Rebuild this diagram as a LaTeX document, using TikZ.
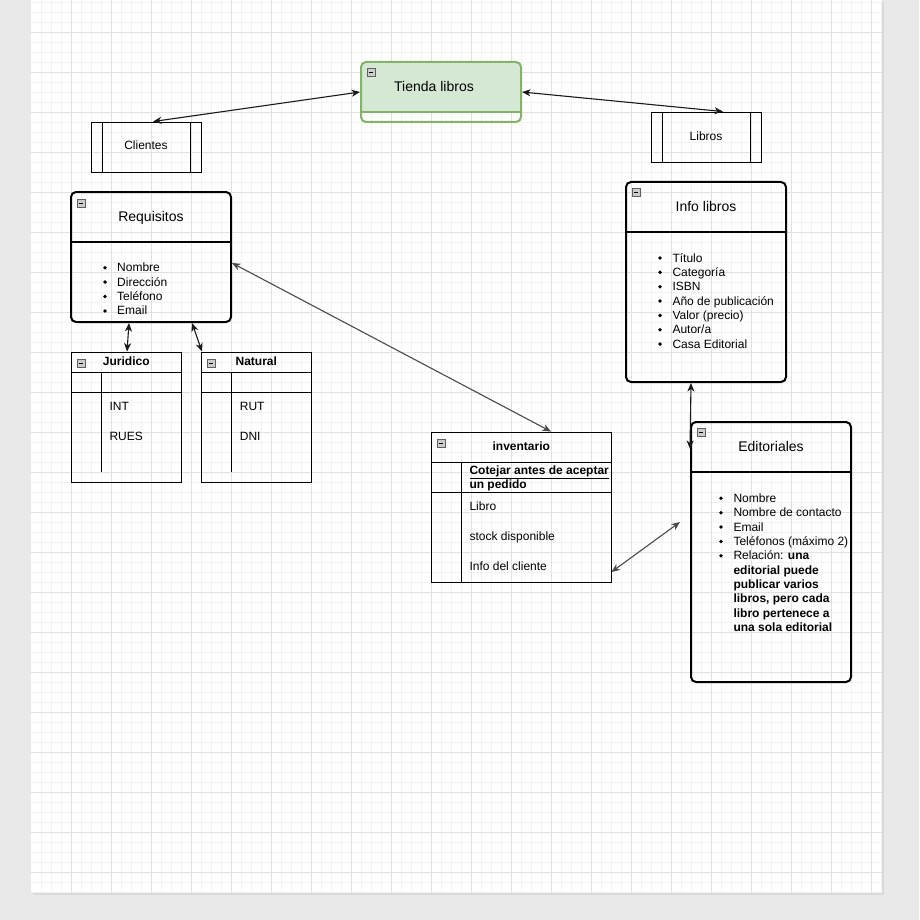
\documentclass[tikz,border=0pt]{standalone}
\usepackage{fontspec}
\setmainfont{Liberation Sans}
\usetikzlibrary{arrows.meta,calc}
\definecolor{bggray}{HTML}{E9E9E9}
\definecolor{shadowgray}{HTML}{DADADA}
\definecolor{gminor}{HTML}{F3F3F3}
\definecolor{gmajor}{HTML}{E1E1E1}
\definecolor{tfill}{HTML}{D5E8D4}
\definecolor{tstroke}{HTML}{82B366}
\definecolor{connblack}{HTML}{1A1A1A}
\definecolor{conngray}{HTML}{4A4A4A}
\begin{document}
\begin{tikzpicture}[x=1pt,y=-1pt,
  txt/.style={inner sep=0, font=\fontsize{12}{14.4}\selectfont, anchor=base west},
  btxt/.style={inner sep=0, font=\fontsize{12}{14.4}\selectfont\bfseries, anchor=base west},
  ctitle/.style={inner sep=0, font=\fontsize{14}{16}\selectfont, anchor=base},
  stitle/.style={inner sep=0, font=\fontsize{12}{14}\selectfont, anchor=base},
  btitle/.style={inner sep=0, font=\fontsize{12}{14}\selectfont\bfseries, anchor=base},
  lane/.style={draw=black, line width=2pt, rounded corners=5pt, inner sep=0},
  tbl/.style={draw=black, line width=0.9pt, inner sep=0},
  divider/.style={draw=black, line width=0.9pt},
  lanediv/.style={draw=black, line width=2pt},
  minusicon/.style={draw=gray!75!black, fill=gray!40, line width=0.5pt, minimum size=8pt, inner sep=0,
    path picture={\draw[black, line width=0.9pt] ([xshift=1.8pt]path picture bounding box.west) -- ([xshift=-1.8pt]path picture bounding box.east);}},
  conn/.style={draw=connblack, line width=1.1pt, {Stealth[length=8.5pt,width=7pt,inset=2.5pt]}-{Stealth[length=8.5pt,width=7pt,inset=2.5pt]}},
  conng/.style={draw=conngray, line width=1.1pt, {Stealth[length=8.5pt,width=7pt,inset=2.5pt]}-{Stealth[length=8.5pt,width=7pt,inset=2.5pt]}},
]
\useasboundingbox (0,0) rectangle (919,920);
% background and page
\fill[bggray] (0,0) rectangle (919,920);
\fill[shadowgray] (33,2) rectangle (884,895);
\fill[white] (31,0) rectangle (882,893);
\foreach \x in {41,51,...,881} \draw[gminor, line width=0.8pt] (\x,0) -- (\x,893);
\foreach \y in {2,12,...,892} \draw[gminor, line width=0.8pt] (31,\y) -- (882,\y);
\foreach \x in {71,111,...,871} \draw[gmajor, line width=0.8pt] (\x,0) -- (\x,893);
\foreach \y in {32,72,...,872} \draw[gmajor, line width=0.8pt] (31,\y) -- (882,\y);

% Tienda libros
\begin{scope}
  \clip (355,55) rectangle (527,112);
  \fill[tfill, rounded corners=5pt] (361,62) rectangle (521,122);
\end{scope}
\node[lane, draw=tstroke, minimum width=160pt, minimum height=60pt] (tienda) at (441,92) {};
\draw[lanediv, draw=tstroke] (361,112) -- (521,112);
\node[minusicon] (mt) at (371,72) {};
\node[ctitle] (tiendat) at (434,92) {Tienda libros};

% Clientes
\node[tbl, minimum width=110pt, minimum height=50pt] (cli) at (146,147) {};
\draw[divider] (102,122) -- (102,172);
\draw[divider] (190,122) -- (190,172);
\node[stitle] (clit) at (146,150) {Clientes};

% Libros
\node[tbl, minimum width=110pt, minimum height=50pt] (lib) at (706,137) {};
\draw[divider] (662,112) -- (662,162);
\draw[divider] (750,112) -- (750,162);
\node[stitle] (libt) at (706,140.5) {Libros};

% Requisitos
\node[lane, minimum width=160pt, minimum height=130pt] (req) at (151,257) {};
\draw[lanediv] (71,242) -- (231,242);
\node[minusicon] (mr) at (81,203) {};
\node[ctitle] (reqt) at (151,221.5) {Requisitos};
\foreach \t [count=\i from 0] in {Nombre,Dirección,Teléfono,Email} {
  \pgfmathsetmacro\yy{271.7+14.4*\i}
  \node[txt] (ri\i) at (117,\yy) {\t};
  \fill (105,\yy-4) circle (1.9);
}

% Info libros
\node[lane, minimum width=160pt, minimum height=200pt] (il) at (706,282) {};
\draw[lanediv] (626,232) -- (786,232);
\node[minusicon] (mil) at (636,192) {};
\node[ctitle] (ilt) at (706,211.7) {Info libros};
\foreach \t [count=\i from 0] in {Título,Categoría,ISBN,Año de publicación,Valor (precio),Autor/a,Casa Editorial} {
  \pgfmathsetmacro\yy{262+14.35*\i}
  \node[txt] (ili\i) at (672.3,\yy) {\t};
  \fill (660,\yy-4) circle (1.9);
}

% Juridico
\node[tbl, minimum width=110pt, minimum height=130pt] (jur) at (126,417) {};
\draw[divider] (71,372) -- (181,372);
\draw[divider] (71,392) -- (181,392);
\draw[divider] (101,372) -- (101,472);
\node[minusicon] (mj) at (81,363) {};
\node[btitle] (jurt) at (126.3,365) {Juridico};
\node[txt] (jint) at (109.3,410) {INT};
\node[txt] (jrues) at (109.3,440) {RUES};

% Natural
\node[tbl, minimum width=110pt, minimum height=130pt] (nat) at (256,417) {};
\draw[divider] (201,372) -- (311,372);
\draw[divider] (201,392) -- (311,392);
\draw[divider] (231,372) -- (231,472);
\node[minusicon] (mn) at (211,363) {};
\node[btitle] (natt) at (256.3,365) {Natural};
\node[txt] (nrut) at (239.7,410) {RUT};
\node[txt] (ndni) at (239.7,440) {DNI};

% inventario
\node[tbl, minimum width=180pt, minimum height=150pt] (inv) at (521,507) {};
\draw[divider] (431,462) -- (611,462);
\draw[divider] (431,492) -- (611,492);
\draw[divider] (461,462) -- (461,582);
\node[minusicon] (mi) at (441,443) {};
\node[btitle] (invt) at (521.3,450) {inventario};
\node[btxt] (cot1) at (469.3,474.5) {\underline{Cotejar antes de aceptar}};
\node[btxt] (cot2) at (469.3,488.5) {un pedido};
\node[txt] (ilibro) at (469.3,510) {Libro};
\node[txt] (istock) at (469.3,540) {stock disponible};
\node[txt] (icli) at (469.3,570) {Info del cliente};

% Editoriales
\node[lane, minimum width=160pt, minimum height=260pt] (ed) at (771,552) {};
\draw[lanediv] (691,472) -- (851,472);
\node[minusicon] (me) at (701,432) {};
\node[ctitle] (edt) at (771,451.7) {Editoriales};
\foreach \t [count=\i from 0] in {Nombre,Nombre de contacto,Email,Teléfonos (máximo 2),Relación: \textbf{una}} {
  \pgfmathsetmacro\yy{502.3+14.38*\i}
  \node[txt] (edi\i) at (733.3,\yy) {\t};
  \fill (721,\yy-4) circle (1.9);
}
\foreach \t [count=\i from 1] in {editorial puede,publicar varios,{libros, pero cada},libro pertenece a,una sola editorial} {
  \pgfmathsetmacro\yy{559.8+14.38*\i}
  \node[btxt] (edb\i) at (733.3,\yy) {\t};
}

% connectors
\draw[conn] ([xshift=7pt]cli.north) -- (tienda.west);
\draw[conn] (tienda.east) -- ([xshift=17pt]lib.north);
\draw[conn] ([xshift=-22pt]req.south) -- ([xshift=1pt]jur.north);
\draw[conn] ([xshift=41pt]req.south) -- ([xshift=-54pt]nat.north);
\draw[conng] ([yshift=-6pt]req.east) -- ([xshift=30pt]inv.north);
\draw[conn] ([xshift=-15pt]il.south) -- ([yshift=-28pt]ed.north west);
\draw[conng] ([yshift=-65pt]inv.east) -- ([xshift=-10pt,yshift=30pt]ed.west);
\end{tikzpicture}
\end{document}
